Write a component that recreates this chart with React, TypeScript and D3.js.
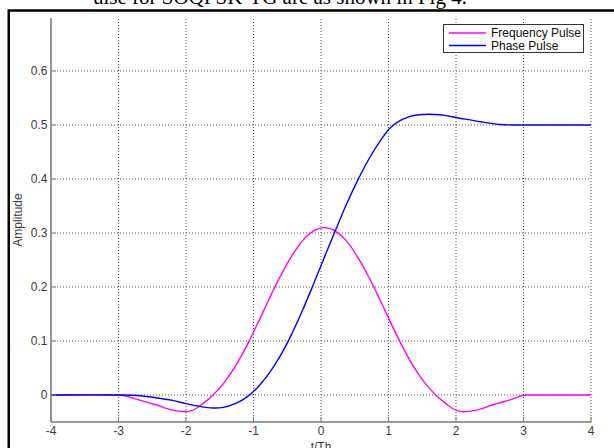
import React from "react";
import * as d3 from "d3";

// Frequency pulse (magenta)
const tFreq = [-4, -3.5, -3.0, -2.7, -2.45, -2.2, -2.0, -1.85, -1.75, -1.6, -1.435, -1.27, -1.105, -0.94, -0.775, -0.61, -0.445, -0.28, -0.115, 0.05, 0.215, 0.38, 0.545, 0.71, 0.875, 1.04, 1.205, 1.37, 1.535, 1.7, 1.85, 1.95, 2.1, 2.3, 2.55, 2.8, 3.05, 3.5, 4];
const freqPulse = [0, 0, 0, -0.009, -0.018, -0.028, -0.031, -0.025, -0.016, 0, 0.023, 0.053, 0.09, 0.132, 0.176, 0.218, 0.255, 0.285, 0.3035, 0.31, 0.3035, 0.285, 0.255, 0.218, 0.176, 0.132, 0.09, 0.053, 0.023, 0, -0.016, -0.025, -0.031, -0.028, -0.018, -0.009, 0, 0, 0];

// Phase pulse (blue)
const tPhase = [-4, -3, -2.72, -2.45, -2.2, -2.0, -1.8, -1.6, -1.45, -1.27, -1.1, -0.94, -0.775, -0.61, -0.445, -0.28, -0.115, 0.05, 0.215, 0.38, 0.545, 0.71, 0.875, 1.02, 1.17, 1.32, 1.45, 1.6, 1.76, 2.0, 2.36, 2.65, 2.9, 3.5, 4];
const phasePulse = [0, 0, -0.001, -0.005, -0.01, -0.016, -0.021, -0.024, -0.023, -0.016, -0.004, 0.014, 0.039, 0.071, 0.11, 0.155, 0.204, 0.255, 0.305, 0.354, 0.398, 0.437, 0.47, 0.494, 0.508, 0.516, 0.519, 0.52, 0.519, 0.514, 0.506, 0.501, 0.5, 0.5, 0.5];

const xTicks = [-4, -3, -2, -1, 0, 1, 2, 3, 4];
const yTicks = [0, 0.1, 0.2, 0.3, 0.4, 0.5, 0.6];
const legendLabels = ["Frequency Pulse", "Phase Pulse"];
const seriesColors = ["#ff00ff", "#0000ff"];
const topText = "ulse for SOQPSK-TG are as shown in Fig 4.";

export default function App() {
  const W = 614, H = 448;
  const x = d3.scaleLinear().domain([-4, 4]).range([51, 591]);
  const y = d3.scaleLinear().domain([-0.05, 0.7]).range([422, 17]);
  const lineFreq = d3
    .line<[number, number]>()
    .x((d) => x(d[0]))
    .y((d) => y(d[1]))
    .curve(d3.curveMonotoneX);
  const linePhase = d3
    .line<[number, number]>()
    .x((d) => x(d[0]))
    .y((d) => y(d[1]))
    .curve(d3.curveCatmullRom.alpha(0.5));
  const freqPts = tFreq.map((t, i) => [t, freqPulse[i]] as [number, number]);
  const phasePts = tPhase.map((t, i) => [t, phasePulse[i]] as [number, number]);
  const font = "'Liberation Sans', Arial, Helvetica, sans-serif";
  const axisGray = "#7a7a7a";
  const textGray = "#3c3c3c";
  const x0 = x(-4), x1 = x(4), yb = y(-0.05), yt = 18;

  return (
    <svg
      width={W}
      height={H}
      style={{ position: "fixed", left: 0, top: 0, background: "#fff" }}
    >
      <rect x={0} y={0} width={W} height={H} fill="#fff" />
      <text
        x={93}
        y={4}
        fontFamily="'Liberation Serif', 'Times New Roman', serif"
        fontSize={21}
        fill="#000"
      >
        {topText}
      </text>
      <path d={`M8.75,${H} V10.5 H${W}`} fill="none" stroke="#000" strokeWidth={2.5} />

      {/* grid */}
      {xTicks.slice(1).map((t) => (
        <line key={"gx" + t} x1={x(t)} x2={x(t)} y1={yb} y2={yt} stroke="#555" strokeWidth={1} strokeDasharray="1,2" />
      ))}
      {yTicks.map((v) => (
        <line key={"gy" + v} x1={x0} x2={x1} y1={y(v)} y2={y(v)} stroke="#555" strokeWidth={1} strokeDasharray="1,2" />
      ))}

      {/* curves */}
      <path d={lineFreq(freqPts) || ""} fill="none" stroke={seriesColors[0]} strokeWidth={1.4} />
      <path d={linePhase(phasePts) || ""} fill="none" stroke={seriesColors[1]} strokeWidth={1.4} />

      {/* axes */}
      <line x1={x0} x2={x0} y1={yt} y2={yb} stroke={axisGray} strokeWidth={1.6} />
      <line x1={x0} x2={x1} y1={yb} y2={yb} stroke={axisGray} strokeWidth={1.6} />
      {xTicks.map((t) => (
        <g key={"xt" + t}>
          <line x1={x(t)} x2={x(t)} y1={yb} y2={yb - 5} stroke={axisGray} strokeWidth={1} />
          <text x={x(t)} y={435} textAnchor="middle" fontFamily={font} fontSize={12} fill={textGray}>
            {t}
          </text>
        </g>
      ))}
      {yTicks.map((v) => (
        <g key={"yt" + v}>
          <line x1={x0} x2={x0 + 5} y1={y(v)} y2={y(v)} stroke={axisGray} strokeWidth={1} />
          <text x={47.5} y={y(v) + 4.2} textAnchor="end" fontFamily={font} fontSize={12} fill={textGray}>
            {v}
          </text>
        </g>
      ))}
      <text x={321} y={451} textAnchor="middle" fontFamily={font} fontSize={12} fill={textGray}>
        t/Th
      </text>
      <text
        transform="translate(22,220) rotate(-90)"
        textAnchor="middle"
        fontFamily={font}
        fontSize={12}
        fill={textGray}
      >
        Amplitude
      </text>

      {/* legend */}
      <rect x={443.5} y={24.5} width={140} height={28} fill="#fff" stroke="#333" strokeWidth={1} />
      {legendLabels.map((lab, i) => (
        <g key={lab}>
          <line x1={449} x2={486} y1={33 + i * 12.5} y2={33 + i * 12.5} stroke={seriesColors[i]} strokeWidth={1.4} />
          <text x={491} y={37.2 + i * 12.5} fontFamily={font} fontSize={12} fill="#111">
            {lab}
          </text>
        </g>
      ))}
    </svg>
  );
}
